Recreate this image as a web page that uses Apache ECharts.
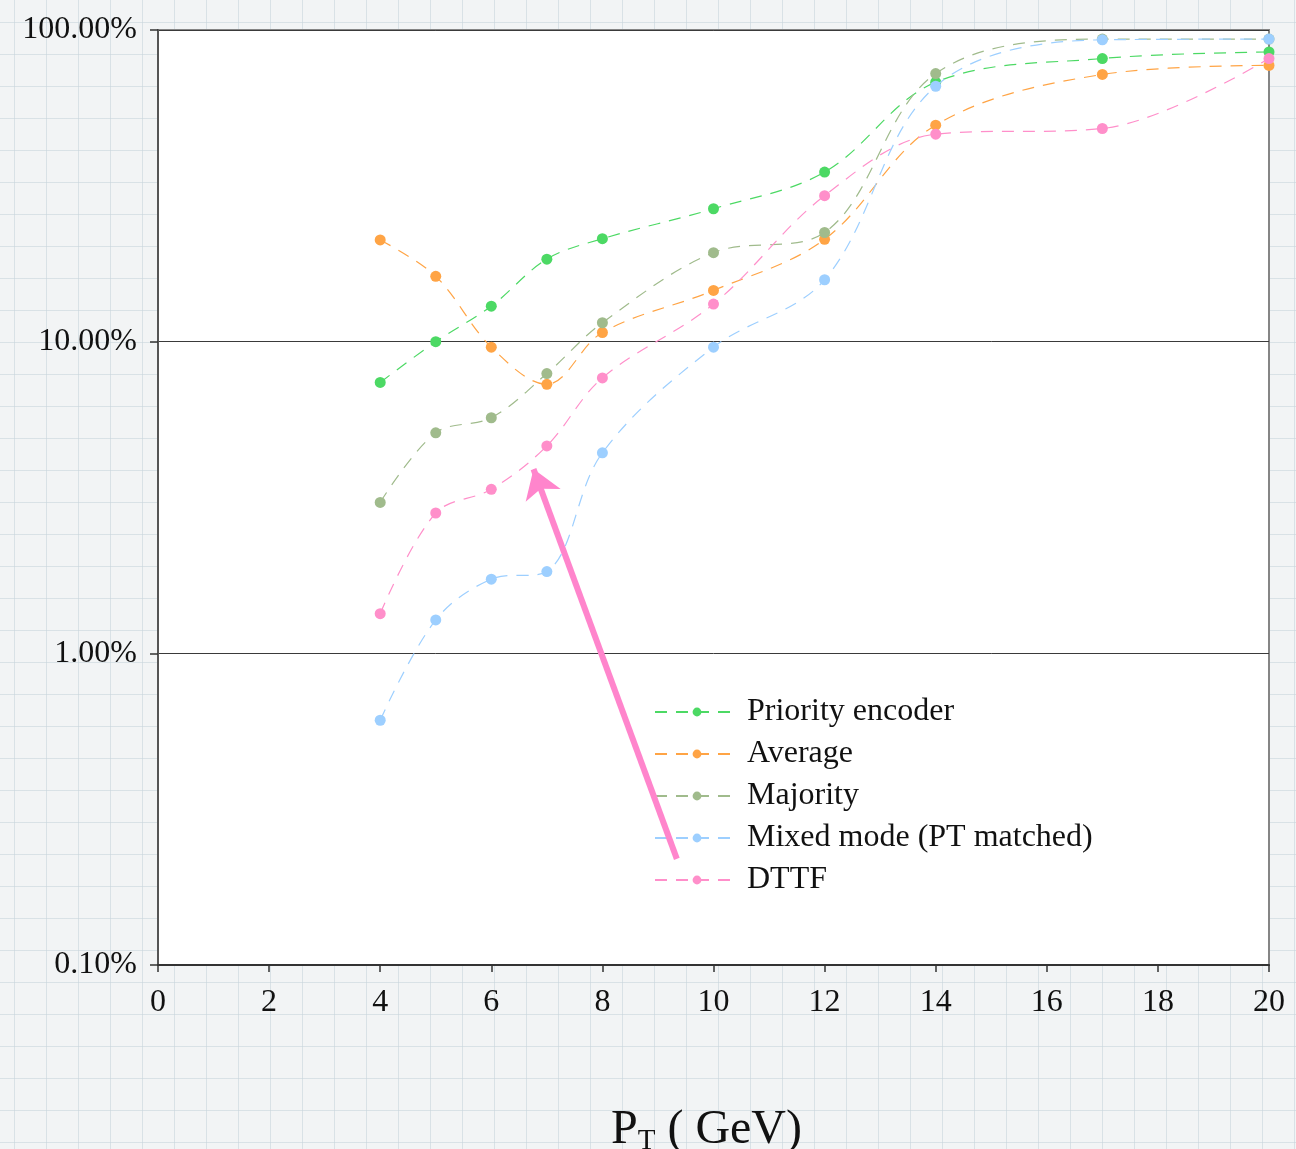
<!DOCTYPE html>
<html>
<head>
<meta charset="utf-8">
<script src="https://cdn.jsdelivr.net/npm/echarts@6/dist/echarts.min.js"></script>
<style>
  html, body { margin: 0; padding: 0; }
  body {
    width: 1296px; height: 1149px;
    background-color: #f2f4f5;
    background-image:
      linear-gradient(to right, rgba(200,213,220,0.6) 1px, transparent 1px),
      linear-gradient(to bottom, rgba(200,213,220,0.6) 1px, transparent 1px);
    background-size: 32px 32px;
    background-position: 14px 22px;
  }
  #chart { width: 1296px; height: 1149px; }
</style>
</head>
<body>
<div id="chart"></div>
<script>
// PT in GeV
const pt = [4, 5, 6, 7, 8, 10, 12, 14, 17, 20];

// efficiency in %
const priorityEncoder = [7.4, 10.0, 13.0, 18.4, 21.4, 26.7, 35.0, 68.0, 81.0, 85.0];
const average = [21.2, 16.2, 9.6, 7.3, 10.7, 14.6, 21.3, 49.5, 72.0, 77.0];
const majority = [3.05, 5.1, 5.7, 7.9, 11.5, 19.3, 22.4, 72.5, 93.5, 93.5];
const mixedMode = [0.61, 1.28, 1.73, 1.83, 4.4, 9.6, 15.8, 66.0, 93.0, 93.5];
const dttf = [1.34, 2.82, 3.36, 4.63, 7.65, 13.2, 29.4, 46.3, 48.3, 81.0];

const names = ['Priority encoder', 'Average', 'Majority', 'Mixed mode (PT matched)', 'DTTF'];
const colors = ['#4cd964', '#ffa445', '#a0bb8c', '#9dcfff', '#ff8fca'];

// arrow annotation: [pt, %] from tail to head
const arrowFrom = [9.34, 0.219];
const arrowTo = [6.76, 3.9];

const chart = echarts.init(document.getElementById('chart'));
const font = 'Liberation Serif';

const makeSeries = (name, values, color, idx) => {
  return {
    name: name,
    type: 'line',
    smooth: 0.35,
    data: pt.map((x, i) => [x, values[i]]),
    symbol: 'circle',
    symbolSize: 11,
    itemStyle: { color: color },
    lineStyle: { color: color, width: 1.2, type: [12, 9] },
    z: 3 + idx
  };
};

const series = [priorityEncoder, average, majority, mixedMode, dttf]
  .map((v, i) => makeSeries(names[i], v, colors[i], i));

series[4].markLine = {
  silent: true,
  symbol: ['none', 'arrow'],
  symbolSize: 28,
  label: { show: false },
  lineStyle: { color: '#ff85cc', width: 6, type: 'solid' },
  itemStyle: { color: '#ff85cc' },
  data: [[{ coord: arrowFrom }, { coord: arrowTo }]]
};

chart.setOption({
  animation: false,
  grid: {
    left: 158, right: 27, top: 30, bottom: 184,
    outerBoundsMode: 'none',
    show: true, backgroundColor: '#ffffff',
    borderColor: '#858585', borderWidth: 2
  },
  legend: {
    orient: 'vertical',
    left: 649, top: 689,
    itemWidth: 84, itemHeight: 11,
    itemGap: 6,
    data: names,
    textStyle: { fontFamily: font, fontSize: 32, color: '#111', lineHeight: 36, padding: [0, 0, 0, 3] }
  },
  xAxis: {
    type: 'value',
    min: 0, max: 20, interval: 2,
    name: '{p|P}{sub|T}{p| ( GeV)}',
    nameLocation: 'middle',
    nameGap: 140,
    nameTextStyle: {
      padding: [0, 14, 0, 0],
      rich: {
        p: { fontFamily: font, fontSize: 48, color: '#111' },
        sub: { fontFamily: font, fontSize: 29, color: '#111', verticalAlign: 'bottom', padding: [22, 0, 0, 0] }
      }
    },
    axisLine: { lineStyle: { color: '#333', width: 2 } },
    axisTick: { show: true, length: 7, lineStyle: { color: '#333', width: 1.5 } },
    axisLabel: { fontFamily: font, fontSize: 32, color: '#111', margin: 22 },
    splitLine: { show: false }
  },
  yAxis: {
    type: 'log',
    logBase: 10,
    min: 0.1, max: 100,
    axisLine: { show: true, lineStyle: { color: '#555', width: 2 } },
    axisTick: { show: true, length: 8, lineStyle: { color: '#333', width: 1.5 } },
    axisLabel: {
      fontFamily: font, fontSize: 32, color: '#111', margin: 21,
      formatter: v => Number(v).toFixed(2) + '%'
    },
    splitLine: { show: true, lineStyle: { color: '#3a3a3a', width: 1 } }
  },
  series: series
});
</script>
</body>
</html>
